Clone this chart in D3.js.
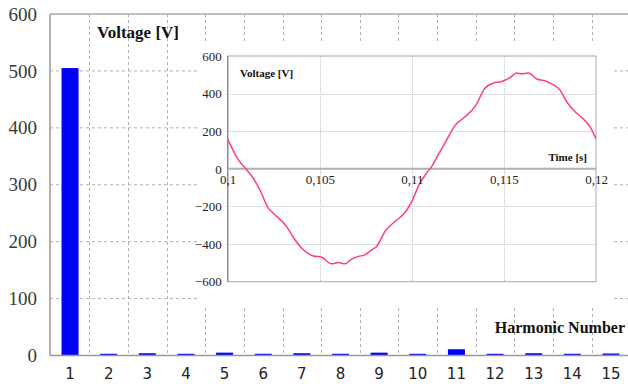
<!DOCTYPE html>
<html>
<head>
<meta charset="utf-8">
<script src="https://cdn.jsdelivr.net/npm/d3@7"></script>
<style>
  html, body { margin: 0; padding: 0; background: #fff; }
  svg { display: block; }
</style>
</head>
<body>
<svg id="chart" width="628" height="389"></svg>
<script>
// Harmonic spectrum of the voltage (amplitude per harmonic order)
const harmonics = [1, 2, 3, 4, 5, 6, 7, 8, 9, 10, 11, 12, 13, 14, 15];
const amplitudes = [505, 3, 4, 3, 5, 3, 4, 3, 5, 3, 11, 3, 4, 3, 3.5];
const amplitudeTicks = [0, 100, 200, 300, 400, 500, 600];

// One period of the voltage waveform (time in s, voltage in V)
const time = [0.1, 0.10058, 0.10103, 0.10139, 0.10175, 0.1022, 0.10248, 0.1032, 0.10365, 0.10402,
  0.10465, 0.1051, 0.10565, 0.106, 0.10637, 0.10673, 0.10709, 0.10745, 0.10782, 0.10809,
  0.10854, 0.10908, 0.10963, 0.10999, 0.11044, 0.1108, 0.11107, 0.11143, 0.11189, 0.11234,
  0.11279, 0.11343, 0.11397, 0.11442, 0.11488, 0.11533, 0.11569, 0.11596, 0.11632, 0.11678,
  0.11722, 0.11768, 0.11804, 0.1184, 0.11885, 0.1193, 0.11967, 0.12];
const voltage = [158, 48, -5, -50, -112, -209, -236, -307, -377, -422,
  -463, -470, -505, -498, -505, -480, -466, -457, -431, -413,
  -333, -280, -232, -174, -76, -23, 12, 74, 154, 230,
  269, 331, 429, 456, 464, 485, 509, 505, 509, 478,
  468, 447, 420, 358, 305, 266, 225, 160];
const timeTicks = [0.1, 0.105, 0.11, 0.115, 0.12];
const voltageTicks = [-600, -400, -200, 0, 200, 400, 600];

const svg = d3.select("#chart");
const serif = "'Liberation Serif', 'Times New Roman', serif";
const sans = "'DejaVu Sans', Verdana, sans-serif";

// ---------- main bar chart ----------
const x = d3.scaleBand().domain(harmonics).range([50.7, 630.3])
  .paddingInner(0.56).paddingOuter(0.28);
const y = d3.scaleLinear().domain([0, 600]).range([355.5, 14]);
const x0 = x.range()[0], step = x.step();

const main = svg.append("g");

// horizontal dashed gridlines
main.append("g").selectAll("line")
  .data(amplitudeTicks.filter(d => d > 0 && d < 600))
  .join("line")
  .attr("x1", 50).attr("x2", 628)
  .attr("y1", d => y(d)).attr("y2", d => y(d))
  .attr("stroke", "#b0b0b0").attr("stroke-width", 1).attr("stroke-dasharray", "3,3");

// vertical dashed gridlines between harmonic bands
main.append("g").selectAll("line")
  .data(harmonics.slice(1))
  .join("line")
  .attr("x1", (d, i) => Math.round(x0 + (i + 1) * step) + 0.5)
  .attr("x2", (d, i) => Math.round(x0 + (i + 1) * step) + 0.5)
  .attr("y1", y(600)).attr("y2", y(0))
  .attr("stroke", "#b0b0b0").attr("stroke-width", 1).attr("stroke-dasharray", "3,3");

// bars
main.append("g").selectAll("rect")
  .data(harmonics)
  .join("rect")
  .attr("x", d => x(d))
  .attr("width", x.bandwidth())
  .attr("y", (d, i) => y(amplitudes[i]))
  .attr("height", (d, i) => y(0) - y(amplitudes[i]))
  .attr("fill", "#0000ff");

// frame: left axis, top edge, baseline
main.append("line").attr("x1", 50).attr("x2", 50).attr("y1", y(600)).attr("y2", y(0))
  .attr("stroke", "#999").attr("stroke-width", 1.5);
main.append("line").attr("x1", 50).attr("x2", 628).attr("y1", y(600)).attr("y2", y(600))
  .attr("stroke", "#aaa").attr("stroke-width", 1.5);
main.append("line").attr("x1", 50).attr("x2", 628).attr("y1", y(0)).attr("y2", y(0))
  .attr("stroke", "#999").attr("stroke-width", 1.5);

// y axis labels
const yAxis = main.append("g").attr("transform", "translate(44,0)")
  .call(d3.axisLeft(y).tickValues(amplitudeTicks).tickSize(0).tickPadding(7));
yAxis.select(".domain").remove();
yAxis.selectAll("text").attr("font-family", serif).attr("font-size", 19).attr("fill", "#3a3a3a");

// x axis labels
const xAxis = main.append("g").attr("transform", `translate(0,${y(0)})`)
  .call(d3.axisBottom(x).tickSize(0).tickPadding(13));
xAxis.select(".domain").remove();
xAxis.selectAll("text").attr("font-family", sans).attr("font-size", 15).attr("fill", "#222");

main.append("text").attr("x", 97).attr("y", 38)
  .attr("font-family", serif).attr("font-weight", "bold").attr("font-size", 17)
  .attr("fill", "#111").text("Voltage [V]");
main.append("text").attr("x", 625).attr("y", 333).attr("text-anchor", "end")
  .attr("font-family", serif).attr("font-weight", "bold").attr("font-size", 16)
  .attr("fill", "#111").text("Harmonic Number");

// ---------- inset: waveform over one period ----------
const inset = svg.append("g");
inset.append("rect").attr("x", 197).attr("y", 44).attr("width", 416).attr("height", 264)
  .attr("fill", "#fff");

const tx = d3.scaleLinear().domain([0.1, 0.12]).range([227.7, 596]);
const vy = d3.scaleLinear().domain([-600, 600]).range([281.7, 56]);

// dotted gridlines
inset.append("g").selectAll("line")
  .data(voltageTicks.filter(d => d !== 0 && Math.abs(d) < 600))
  .join("line")
  .attr("x1", tx(0.1)).attr("x2", tx(0.12))
  .attr("y1", d => Math.round(vy(d)) + 0.5).attr("y2", d => Math.round(vy(d)) + 0.5)
  .attr("stroke", "#c4c4c4").attr("stroke-width", 1).attr("stroke-dasharray", "1,1");
inset.append("g").selectAll("line")
  .data(timeTicks.slice(1, -1))
  .join("line")
  .attr("x1", d => Math.round(tx(d)) + 0.5).attr("x2", d => Math.round(tx(d)) + 0.5)
  .attr("y1", vy(600)).attr("y2", vy(-600))
  .attr("stroke", "#c4c4c4").attr("stroke-width", 1).attr("stroke-dasharray", "1,1");

// plot frame and zero line
inset.append("rect").attr("x", tx(0.1)).attr("y", vy(600))
  .attr("width", tx(0.12) - tx(0.1)).attr("height", vy(-600) - vy(600))
  .attr("fill", "none").attr("stroke", "#a8a8a8").attr("stroke-width", 1);
inset.append("line").attr("x1", tx(0.1)).attr("x2", tx(0.1)).attr("y1", vy(600)).attr("y2", vy(-600))
  .attr("stroke", "#888").attr("stroke-width", 1.3);
inset.append("line").attr("x1", tx(0.1)).attr("x2", tx(0.12)).attr("y1", vy(0)).attr("y2", vy(0))
  .attr("stroke", "#b0b0b0").attr("stroke-width", 2);

// waveform
const line = d3.line().x((d, i) => tx(time[i])).y(d => vy(d)).curve(d3.curveMonotoneX);
inset.append("path").datum(voltage).attr("d", line)
  .attr("fill", "none").attr("stroke", "#ff3d84").attr("stroke-width", 1.5);

// inset axes labels
const commaLocale = d3.formatLocale({ decimal: ",", thousands: ".", grouping: [3], currency: ["", ""] });
const vAxis = inset.append("g").attr("transform", `translate(${tx(0.1)},0)`)
  .call(d3.axisLeft(vy).tickValues(voltageTicks).tickSize(0).tickPadding(6));
vAxis.select(".domain").remove();
vAxis.selectAll("text").attr("font-family", serif).attr("font-size", 13).attr("fill", "#222");

const tAxis = inset.append("g").attr("transform", `translate(0,${vy(0)})`)
  .call(d3.axisBottom(tx).tickValues(timeTicks).tickFormat(commaLocale.format(".3~f"))
    .tickSize(0).tickPadding(6));
tAxis.select(".domain").remove();
tAxis.selectAll("text").attr("font-family", serif).attr("font-size", 13).attr("fill", "#222");

inset.append("text").attr("x", 240).attr("y", 77)
  .attr("font-family", serif).attr("font-weight", "bold").attr("font-size", 11)
  .attr("fill", "#111").text("Voltage [V]");
inset.append("text").attr("x", 587).attr("y", 161).attr("text-anchor", "end")
  .attr("font-family", serif).attr("font-weight", "bold").attr("font-size", 11)
  .attr("fill", "#111").text("Time [s]");
</script>
</body>
</html>
